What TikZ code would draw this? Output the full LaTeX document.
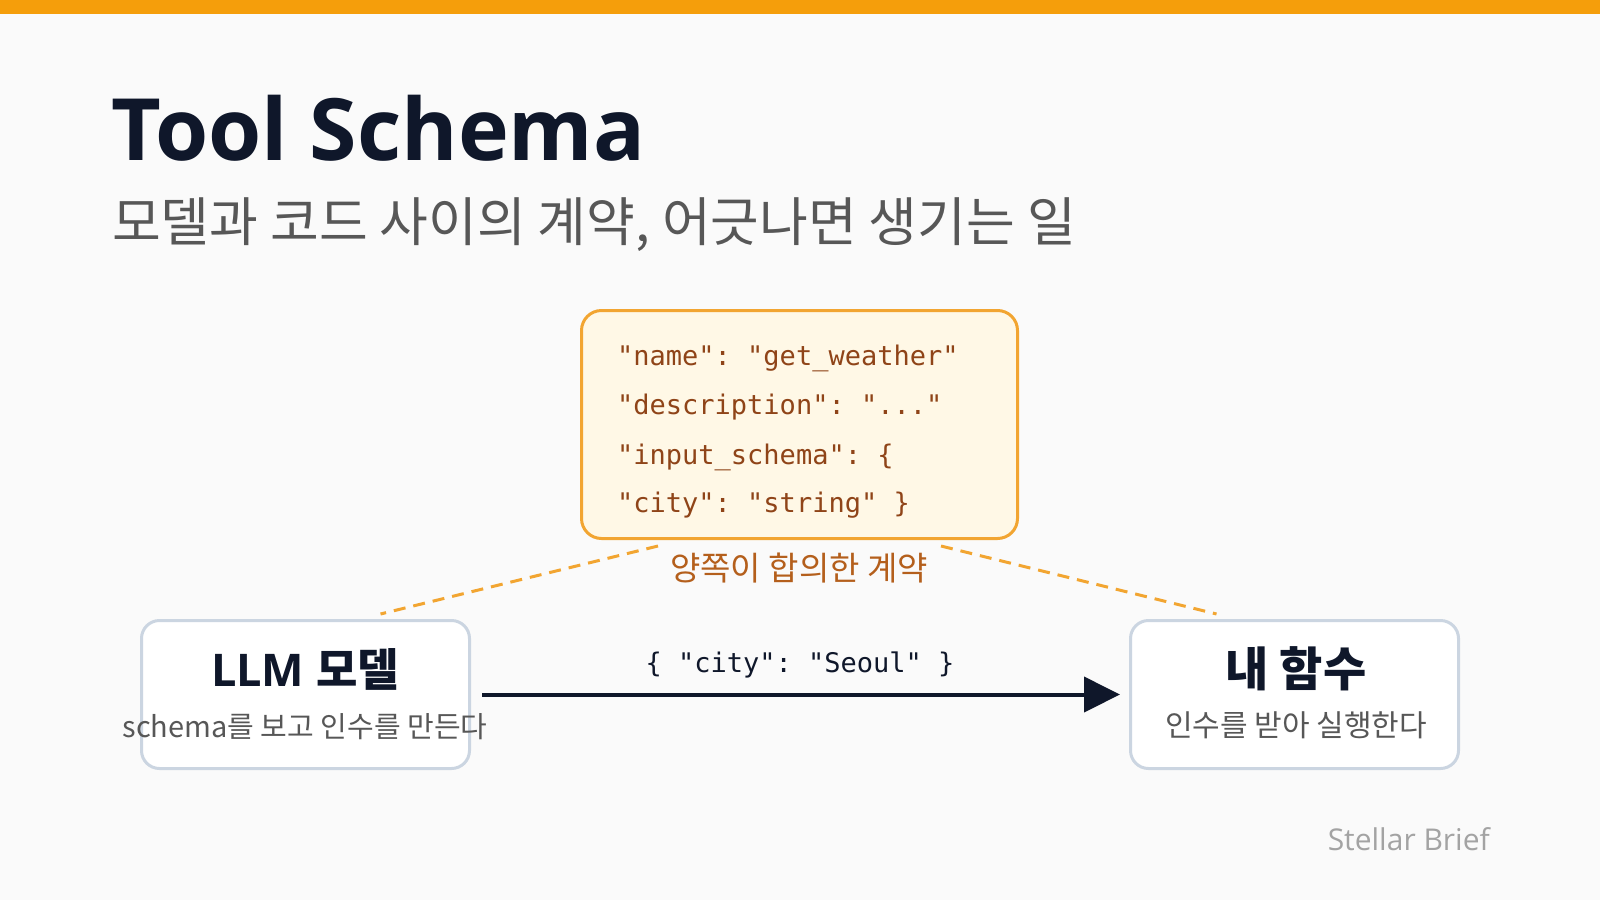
\documentclass[tikz,border=0pt]{standalone}
\usepackage{fontspec}
\setmainfont{Open Sans}
\setmonofont{DejaVu Sans Mono}
\newfontfamily\kr{Noto Sans CJK KR}
\usetikzlibrary{arrows.meta,calc,positioning}
\definecolor{pagebg}{HTML}{FAFAFA}
\definecolor{barorange}{HTML}{F59E0B}
\definecolor{inkdark}{HTML}{0F172A}
\definecolor{subgray}{HTML}{575757}
\definecolor{schemafill}{HTML}{FFF8E6}
\definecolor{schemaline}{HTML}{F2A531}
\definecolor{codeink}{HTML}{8F4418}
\definecolor{agreeink}{HTML}{B45F1C}
\definecolor{cardline}{HTML}{CBD5E1}
\definecolor{footgray}{HTML}{A3A3A3}
\def\fs#1{\fontsize{#1}{#1}\selectfont}

\begin{document}
\begin{tikzpicture}[x=1pt, y=-1pt,
    card/.style={draw=cardline, line width=3pt, fill=white, rounded corners=18pt,
        minimum width=328pt, minimum height=148pt, inner sep=0pt},
    schemabox/.style={draw=schemaline, line width=3pt, fill=schemafill, rounded corners=20pt,
        minimum width=436pt, minimum height=228pt, inner sep=0pt},
    codeline/.style={anchor=base west, inner sep=0pt, text=codeink, font=\ttfamily\fs{27}},
    agreed/.style={draw=schemaline, line width=3pt, dash pattern=on 12pt off 8pt},
    flow/.style={draw=inkdark, line width=4pt, -{Triangle[length=36pt, width=35pt]}}]
			%%%%% START %%%%%
			\useasboundingbox (0,0) rectangle (1600,900);
			\fill[pagebg] (0,0) rectangle (1600,900);
			\fill[barorange] (0,0) rectangle (1600,14);
			
			\node[anchor=base west, inner sep=0pt, text=inkdark] (title) at (111,160) {\fs{86}\bfseries Tool Schema};
			\node[anchor=west, inner sep=0pt, text=subgray] (subtitle) at (112,225) {\kr\fs{53}모델과 코드 사이의 계약, 어긋나면 생기는 일};
			
			\node[schemabox] (schema) at (799.5,424.5) {};
			\node[codeline] (code1) at (617,365) {"name": "get\_weather"};
			\node[codeline] (code2) at (617,414) {"description": "..."};
			\node[codeline] (code3) at (617,464) {"input\_schema": \{};
			\node[codeline] (code4) at (617,512) {"city": "string" \}};
			\node[inner sep=0pt, text=agreeink] (agree) at (799,568) {\kr\fs{33}양쪽이 합의한 계약};
			
			\node[card] (llm) at (305.5,694.5) {};
			\node[inner sep=0pt, text=inkdark] (llmtitle) at (305,669) {\fs{45}\bfseries LLM {\kr 모델}};
			\node[inner sep=0pt, text=subgray] (llmsub) at (305,727) {\kr\fs{29}schema를 보고 인수를 만든다};
			
			\node[card] (fn) at (1294.5,694.5) {};
			\node[inner sep=0pt, text=inkdark] (fntitle) at (1296,669) {\kr\fs{47}\bfseries 내 함수};
			\node[inner sep=0pt, text=subgray] (fnsub) at (1296,725) {\kr\fs{30}인수를 받아 실행한다};
			
			% contract lines
			\coordinate (lfrom) at ($(schema.south west)+(78,6)$);
			\coordinate (lto) at ($(llm.north)+(75,-5)$);
			\coordinate (rfrom) at ($(schema.south east)+(-78,6)$);
			\coordinate (rto) at ($(fn.north)+(-78,-5)$);
			\draw[agreed] (lfrom) -- (lto);
			\draw[agreed] (rfrom) -- (rto);
			
			% call
			\draw[flow] ([xshift=11pt]llm.east) -- ([xshift=-9pt]fn.west);
			\node[anchor=base, inner sep=0pt, text=inkdark, font=\ttfamily\fs{27}] (args) at (800,672) {\{ "city": "Seoul" \}};
			
			\node[anchor=east, inner sep=0pt, text=footgray] (brand) at (1490,839) {\fs{30}Stellar Brief};
			%%%%% END %%%%%
\end{tikzpicture}
\end{document}
